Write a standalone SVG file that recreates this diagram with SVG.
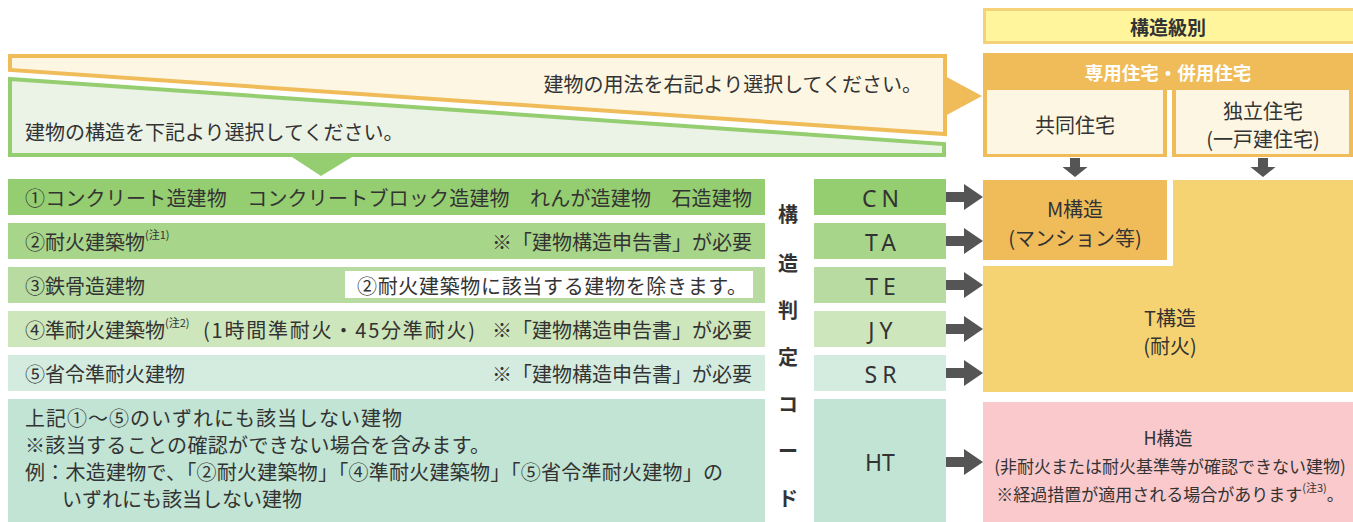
<svg xmlns="http://www.w3.org/2000/svg" width="1353" height="522" viewBox="0 0 1353 522">
<style>
text{font-family:"Noto Sans CJK JP","Noto Sans",sans-serif;fill:#333;dominant-baseline:central}
.t{font-size:20px}
.s{font-size:17px}
.m{text-anchor:middle}
.e{text-anchor:end}
.b{font-weight:700}
.sup{font-size:11px}
.code{font-family:"Noto Sans","DejaVu Sans",sans-serif;font-size:23px;letter-spacing:5px;text-anchor:middle}
.arr{fill:#555}
</style>
<rect width="1353" height="522" fill="#fff"/>
<g id="banner-usage">
<polygon points="10,56 945,56 945,134 10,70" fill="#fdf6e3" stroke="#f0bc5a" stroke-width="4"/>
<polygon points="943,75 982,96 943,117" fill="#f0bc5a"/>
<text class="t e" x="922" y="83">建物の用法を右記より選択してください。</text>
</g>
<g id="banner-structure">
<polygon points="10,79 944,144 944,155 10,155" fill="#ebf2e6" stroke="#95cd71" stroke-width="4"/>
<polygon points="292,157 352,157 321,176" fill="#95cd71"/>
<text class="t" x="25" y="131">建物の構造を下記より選択してください。</text>
</g>
<g id="kouzou-kyubetsu">
<rect x="984.5" y="9.5" width="372" height="33" fill="#fff59d" stroke="#f5d27a" stroke-width="3"/>
<text class="m b" x="1168" y="26" style="font-size:19px">構造級別</text>
</g>
<g id="usage-header">
<rect x="983" y="53" width="373" height="104" fill="#f0bc5a"/>
<rect x="1167" y="90" width="5" height="67" fill="#fff"/>
<text class="m b" x="1168" y="72" style="fill:#fff;font-size:18.5px">専用住宅・併用住宅</text>
</g>
<g id="kyodo">
<rect x="987" y="90" width="176" height="64" fill="#fdf6e2"/>
<text class="t m" x="1075" y="124">共同住宅</text>
</g>
<g id="dokuritsu">
<rect x="1176" y="90" width="173" height="64" fill="#fdf6e2"/>
<text class="t m" x="1263" y="110">独立住宅</text>
<text class="t m" x="1263" y="138">(一戸建住宅)</text>
</g>
<g id="row1">
<rect x="8" y="179" width="757" height="36" fill="#95cd71"/>
<text class="t" x="25" y="197" textLength="727" lengthAdjust="spacing">①コンクリート造建物　コンクリートブロック造建物　れんが造建物　石造建物</text>
</g>
<g id="row2">
<rect x="8" y="223" width="757" height="36" fill="#a7d58a"/>
<text class="t" x="25" y="241">②耐火建築物<tspan class="sup" dy="-7">(注1)</tspan></text>
<text class="t e" x="752" y="241">※「建物構造申告書」が必要</text>
</g>
<g id="row3">
<rect x="8" y="267" width="757" height="36" fill="#b7dba0"/>
<text class="t" x="25" y="285">③鉄骨造建物</text>
<rect x="345" y="271" width="408" height="27" fill="#fff"/>
<text class="t" x="357" y="285" textLength="390" lengthAdjust="spacing">②耐火建築物に該当する建物を除きます。</text>
</g>
<g id="row4">
<rect x="8" y="311" width="757" height="36" fill="#cde6bb"/>
<text class="t" x="25" y="329">④準耐火建築物<tspan class="sup" dy="-7">(注2)</tspan></text>
<text class="t" x="203" y="329" textLength="272" lengthAdjust="spacing">(1時間準耐火・45分準耐火)</text>
<text class="t e" x="752" y="329">※「建物構造申告書」が必要</text>
</g>
<g id="row5">
<rect x="8" y="355" width="757" height="36" fill="#d4ece0"/>
<text class="t" x="25" y="373">⑤省令準耐火建物</text>
<text class="t e" x="752" y="373">※「建物構造申告書」が必要</text>
</g>
<g id="row6">
<rect x="8" y="399" width="757" height="123" fill="#c1e4d4"/>
<text class="t" x="25" y="417" textLength="377" lengthAdjust="spacing">上記①～⑤のいずれにも該当しない建物</text>
<text class="t" x="25" y="444" textLength="465" lengthAdjust="spacing">※該当することの確認ができない場合を含みます。</text>
<text class="t" x="25" y="471" textLength="698" lengthAdjust="spacing">例：木造建物で、「②耐火建築物」「④準耐火建築物」「⑤省令準耐火建物」の</text>
<text class="t" x="62" y="498">いずれにも該当しない建物</text>
</g>
<g id="code-label">
<text class="t m b" x="788" y="213">構</text>
<text class="t m b" x="788" y="262">造</text>
<text class="t m b" x="788" y="309">判</text>
<text class="t m b" x="788" y="356">定</text>
<text class="t m b" x="788" y="403">コ</text>
<text class="t m b" x="788" y="450">ー</text>
<text class="t m b" x="788" y="497">ド</text>
</g>
<g id="code-CN"><rect x="814" y="179" width="132" height="36" fill="#95cd71"/><text class="code" x="883" y="198">CN</text></g>
<g id="code-TA"><rect x="814" y="223" width="132" height="36" fill="#a7d58a"/><text class="code" x="883" y="242">TA</text></g>
<g id="code-TE"><rect x="814" y="267" width="132" height="36" fill="#b7dba0"/><text class="code" x="883" y="286">TE</text></g>
<g id="code-JY"><rect x="814" y="311" width="132" height="36" fill="#cde6bb"/><text class="code" x="883" y="330">JY</text></g>
<g id="code-SR"><rect x="814" y="355" width="132" height="36" fill="#d4ece0"/><text class="code" x="883" y="374">SR</text></g>
<g id="code-HT"><rect x="814" y="399" width="132" height="123" fill="#c1e4d4"/><text class="code" x="880" y="462" style="letter-spacing:0">HT</text></g>
<g id="m-kouzou">
<rect x="983" y="180" width="184" height="80" fill="#f0bc5a"/>
<text class="t m" x="1075" y="208">M構造</text>
<text class="t m" x="1075" y="237">(マンション等)</text>
</g>
<g id="t-kouzou">
<polygon points="1173,180 1356,180 1356,392 983,392 983,266 1173,266" fill="#f5d372"/>
<text class="t m" x="1170" y="317">T構造</text>
<text class="t m" x="1170" y="345">(耐火)</text>
</g>
<g id="h-kouzou">
<rect x="983" y="402" width="373" height="122" fill="#f9c9cb"/>
<text class="s m" x="1168" y="437" style="font-size:18px">H構造</text>
<text class="s m" x="1170" y="465">(非耐火または耐火基準等が確認できない建物)</text>
<text class="s m" x="1170" y="493">※経過措置が適用される場合があります<tspan class="sup" dy="-6">(注3)</tspan><tspan dy="6">。</tspan></text>
</g>
<g id="connectors" class="arr">
<path d="M1070,158 H1080 V167 H1087.5 L1075,177 L1062.5,167 H1070 Z"/>
<path d="M1258,158 H1268 V167 H1275.5 L1263,177 L1250.5,167 H1258 Z"/>
<path d="M946,192 H964 V184 L983,197 L964,210 V202 H946 Z"/>
<path d="M946,236 H964 V228 L983,241 L964,254 V246 H946 Z"/>
<path d="M946,280 H964 V272 L983,285 L964,298 V290 H946 Z"/>
<path d="M946,324 H964 V316 L983,329 L964,342 V334 H946 Z"/>
<path d="M946,368 H964 V360 L983,373 L964,386 V378 H946 Z"/>
<path d="M946,457 H964 V449 L983,462 L964,475 V467 H946 Z"/>
</g>
</svg>
